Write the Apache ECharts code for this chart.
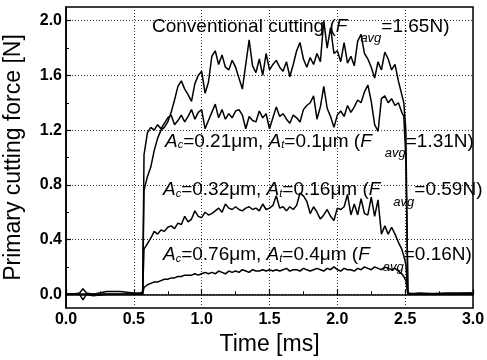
<!DOCTYPE html>
<html><head><meta charset="utf-8">
<script src="https://cdn.jsdelivr.net/npm/echarts@6/dist/echarts.min.js"></script>
<style>html,body{margin:0;padding:0;background:#fff}#c{width:487px;height:360px}</style>
</head><body><div id="c"></div>
<script>
// Time samples [ms]
const time = [0, 0.05, 0.1, 0.125, 0.15, 0.2, 0.3, 0.4, 0.5, 0.55, 0.565,
  0.575, 0.6, 0.625, 0.65, 0.675, 0.7, 0.725, 0.75, 0.775, 0.8, 0.825, 0.85, 0.875, 0.9, 0.925, 0.95, 0.975, 1.0,
  1.025, 1.05, 1.075, 1.1, 1.125, 1.15, 1.175, 1.2, 1.225, 1.25, 1.275, 1.3, 1.325, 1.35, 1.375, 1.4, 1.425, 1.45, 1.475, 1.5,
  1.525, 1.55, 1.575, 1.6, 1.625, 1.65, 1.675, 1.7, 1.725, 1.75, 1.775, 1.8, 1.825, 1.85, 1.875, 1.9, 1.925, 1.95, 1.975, 2.0,
  2.025, 2.05, 2.075, 2.1, 2.125, 2.15, 2.175, 2.2, 2.225, 2.25, 2.275, 2.3, 2.325, 2.35, 2.375, 2.4, 2.425, 2.45, 2.475,
  2.49, 2.505, 2.52, 2.6, 2.8, 3.0];

// Conventional cutting (Favg = 1.65 N)
const conventional = [0.00, 0.00, 0.01, 0.04, 0.01, 0.00, 0.02, 0.02, 0.01, 0.01, 0.02,
  0.76, 0.86, 0.93, 1.05, 1.14, 1.20, 1.22, 1.26, 1.33, 1.42, 1.52, 1.56, 1.50, 1.46, 1.41, 1.54, 1.60, 1.63,
  1.47, 1.55, 1.74, 1.78, 1.68, 1.75, 1.66, 1.64, 1.71, 1.66, 1.58, 1.50, 1.68, 1.86, 1.67, 1.62, 1.72, 1.60, 1.76, 1.64,
  1.68, 1.71, 1.66, 1.63, 1.70, 1.59, 1.68, 1.78, 1.84, 1.72, 1.66, 1.73, 1.68, 1.76, 1.70, 2.00, 1.80, 1.95, 1.76, 1.78,
  1.70, 1.84, 1.69, 1.74, 1.67, 1.85, 1.90, 1.76, 1.72, 1.66, 1.58, 1.70, 1.64, 1.77, 1.72, 1.64, 1.68, 1.56, 1.46,
  1.40, 1.20, 0.01, 0.00, 0.01, 0.01];

// Ac=0.21um, At=0.1um (Favg = 1.31 N)
const vib021 = [0.00, 0.00, 0.00, -0.04, 0.00, -0.01, 0.00, 0.00, 0.00, 0.00, 0.01,
  1.02, 1.18, 1.22, 1.20, 1.24, 1.21, 1.25, 1.29, 1.31, 1.24, 1.27, 1.31, 1.26, 1.30, 1.35, 1.28, 1.33, 1.35,
  1.21, 1.27, 1.33, 1.39, 1.29, 1.35, 1.28, 1.32, 1.29, 1.34, 1.35, 1.31, 1.21, 1.30, 1.27, 1.26, 1.34, 1.29, 1.32, 1.21,
  1.29, 1.37, 1.30, 1.32, 1.28, 1.25, 1.31, 1.29, 1.26, 1.35, 1.38, 1.40, 1.45, 1.28, 1.37, 1.52, 1.36, 1.30, 1.22, 1.31,
  1.34, 1.30, 1.38, 1.33, 1.37, 1.42, 1.40, 1.48, 1.53, 1.41, 1.24, 1.19, 1.43, 1.45, 1.40, 1.43, 1.38, 1.40, 1.33,
  1.30, 1.00, 0.00, 0.01, 0.00, 0.01];

// Ac=0.32um, At=0.16um (Favg = 0.59 N)
const vib032 = [0.00, 0.00, 0.00, 0.00, 0.00, 0.00, 0.00, 0.00, 0.00, 0.00, 0.00,
  0.33, 0.37, 0.41, 0.46, 0.44, 0.47, 0.46, 0.49, 0.50, 0.48, 0.52, 0.51, 0.57, 0.53, 0.55, 0.61, 0.57, 0.56,
  0.60, 0.58, 0.59, 0.61, 0.63, 0.60, 0.66, 0.63, 0.62, 0.64, 0.62, 0.61, 0.63, 0.64, 0.62, 0.63, 0.61, 0.66, 0.62, 0.63,
  0.65, 0.72, 0.63, 0.64, 0.61, 0.64, 0.62, 0.65, 0.74, 0.72, 0.68, 0.59, 0.64, 0.60, 0.55, 0.58, 0.62, 0.57, 0.54, 0.63,
  0.62, 0.64, 0.73, 0.58, 0.66, 0.58, 0.70, 0.59, 0.58, 0.71, 0.57, 0.69, 0.44, 0.50, 0.44, 0.49, 0.44, 0.38, 0.33,
  0.28, 0.22, 0.00, 0.00, 0.00, 0.00];

// Ac=0.76um, At=0.4um (Favg = 0.16 N)
const vib076 = [0.00, 0.00, 0.00, 0.00, 0.00, 0.00, 0.00, 0.00, 0.00, 0.00, 0.00,
  0.05, 0.07, 0.08, 0.09, 0.09, 0.10, 0.11, 0.11, 0.12, 0.12, 0.13, 0.13, 0.14, 0.14, 0.14, 0.15, 0.14, 0.15,
  0.16, 0.15, 0.16, 0.15, 0.17, 0.16, 0.15, 0.17, 0.16, 0.17, 0.16, 0.18, 0.17, 0.16, 0.18, 0.17, 0.17, 0.18, 0.17, 0.18,
  0.17, 0.18, 0.17, 0.18, 0.19, 0.17, 0.18, 0.18, 0.17, 0.19, 0.18, 0.17, 0.18, 0.19, 0.18, 0.17, 0.19, 0.18, 0.20, 0.18,
  0.17, 0.19, 0.18, 0.18, 0.17, 0.19, 0.18, 0.20, 0.19, 0.18, 0.20, 0.19, 0.18, 0.20, 0.19, 0.18, 0.19, 0.17, 0.15,
  0.13, 0.10, 0.00, 0.00, 0.00, 0.00];

const yTicks = [0.0, 0.4, 0.8, 1.2, 1.6, 2.0];
const yMinorTicks = [0.2, 0.6, 1.0, 1.4, 1.8];

const FONT = 'Liberation Sans, Arial, sans-serif';
const pair = arr => time.map((t, i) => [t, arr[i]]);
const mkSeries = arr => ({
  type: 'line', data: pair(arr), showSymbol: false, symbol: 'none',
  lineStyle: { color: '#000', width: 1.5 }, animation: false, z: 3
});

const rich = {
  n: { fontSize: 19, fontFamily: FONT, color: '#000' },
  i: { fontSize: 19, fontFamily: FONT, fontStyle: 'italic', color: '#000' },
  s: { fontSize: 11, fontFamily: FONT, fontStyle: 'italic', color: '#000', padding: [7, 0, 0, 0] },
  a: { fontSize: 13, fontFamily: FONT, fontStyle: 'italic', color: '#000', padding: [24, 0, 0, 13] }
};

const chart = echarts.init(document.getElementById('c'), null, { renderer: 'canvas' });
chart.setOption({
  animation: false,
  backgroundColor: '#fff',
  grid: { left: 66, right: 14, top: 7, bottom: 52, outerBoundsMode: 'none', containLabel: false,
    show: true, borderColor: '#000', borderWidth: 1.5, backgroundColor: 'transparent' },
  xAxis: {
    type: 'value', min: 0, max: 3, interval: 0.5,
    name: 'Time [ms]', nameLocation: 'middle', nameGap: 22,
    nameTextStyle: { fontSize: 23, fontFamily: FONT, color: '#000', verticalAlign: 'top' },
    axisLine: { show: true, lineStyle: { color: '#000', width: 1.5 } },
    axisTick: { show: true, inside: true, length: 5, lineStyle: { color: '#000', width: 1.2 } },
    minorTick: { show: true, splitNumber: 2, length: 3, lineStyle: { color: '#000', width: 1 } },
    axisLabel: { fontSize: 16, fontWeight: 'bold', fontFamily: FONT, color: '#000', margin: 4, formatter: v => v.toFixed(1) },
    splitLine: { show: true, lineStyle: { color: '#333', width: 1, type: [1, 2] } }
  },
  yAxis: [{
    type: 'value', min: -0.1, max: 2.1,
    name: 'Primary cutting force [N]', nameLocation: 'middle', nameGap: 41,
    nameTextStyle: { fontSize: 23, fontFamily: FONT, color: '#000' },
    axisLine: { show: true, lineStyle: { color: '#000', width: 1.5 } },
    axisTick: { show: true, inside: true, length: 5, customValues: yTicks, lineStyle: { color: '#000', width: 1.2 } },
    axisLabel: { fontSize: 16, fontWeight: 'bold', fontFamily: FONT, color: '#000', margin: 4, customValues: yTicks, formatter: v => v.toFixed(1) },
    splitLine: { show: true, lineStyle: { color: '#333', width: 1, type: [1, 2] } }
  }, {
    type: 'value', min: -0.1, max: 2.1, position: 'left', offset: 0,
    axisLine: { show: false },
    axisTick: { show: true, inside: true, length: 3, customValues: yMinorTicks, lineStyle: { color: '#000', width: 1 } },
    axisLabel: { show: false },
    splitLine: { show: false }
  }],
  series: [mkSeries(conventional), mkSeries(vib021), mkSeries(vib032), mkSeries(vib076)],
  graphic: [
    { type: 'text', x: 152, y: 26.5, z: 10, style: { text: '{n|Conventional cutting (}{i|F}{a|avg}{n|=1.65N)}', rich: rich, align: 'left', verticalAlign: 'middle' } },
    { type: 'text', x: 165, y: 141.5, z: 10, style: { text: '{i|A}{s|c}{n|=0.21μm, }{i|A}{s|t}{n|=0.1μm (}{i|F}{a|avg}{n|=1.31N)}', rich: rich, align: 'left', verticalAlign: 'middle' } },
    { type: 'text', x: 163, y: 190, z: 10, style: { text: '{i|A}{s|c}{n|=0.32μm, }{i|A}{s|t}{n|=0.16μm (}{i|F}{a|avg}{n|=0.59N)}', rich: rich, align: 'left', verticalAlign: 'middle' } },
    { type: 'text', x: 163, y: 255, z: 10, style: { text: '{i|A}{s|c}{n|=0.76μm, }{i|A}{s|t}{n|=0.4μm (}{i|F}{a|avg}{n|=0.16N)}', rich: rich, align: 'left', verticalAlign: 'middle' } }
  ]
});
</script></body></html>
